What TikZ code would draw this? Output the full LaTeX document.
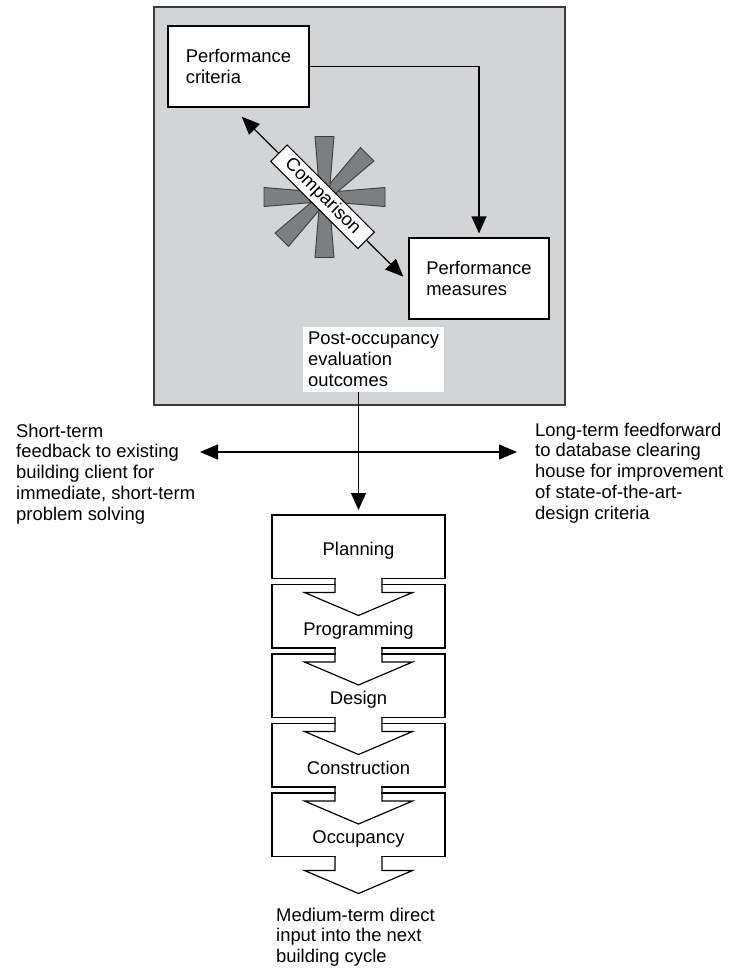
\documentclass[tikz,border=0pt]{standalone}
\usepackage{fontspec}
\setmainfont{Liberation Sans}
\usepackage{tikz}
\usetikzlibrary{arrows.meta, positioning, calc}

\definecolor{panelgray}{RGB}{211,212,214}
\definecolor{spokegray}{RGB}{125,126,128}
\definecolor{edgegray}{RGB}{60,60,60}

\begin{document}
\begin{tikzpicture}[
  x=1pt, y=1pt,
  font=\fontsize{18.4}{20.8}\selectfont,
  panel/.style={rectangle, draw=edgegray, fill=panelgray, line width=1.2pt, minimum width=411, minimum height=398, inner sep=0},
  pbox/.style={rectangle, draw, fill=white, line width=1.2pt, minimum width=141, minimum height=81, align=left},
  cmpbox/.style={rectangle, draw, fill=white, line width=1.1pt, rotate=-45, inner xsep=12pt, inner ysep=3pt},
  spoke/.style={draw=edgegray, fill=spokegray, line width=0.9pt, line join=round},
  stage/.style={rectangle, draw, fill=white, line width=1.2pt, minimum width=173, inner sep=0, outer sep=0, text height=50.5pt, text depth=13pt},
  stagetop/.style={text height=40pt, text depth=23.5pt},
  stagearr/.style={line width=1.2pt, line join=miter},
  note/.style={align=left, inner sep=0, anchor=north west},
  arrow/.style={-{Triangle[length=17pt, width=15pt]}, line width=1.2pt},
  dblarrow/.style={{Triangle[length=18pt, width=15pt]}-{Triangle[length=18pt, width=15pt]}, line width=1.2pt}
]
  \useasboundingbox (0,0) rectangle (729,-969);

  % evaluation panel
  \node[panel] (eval) at (359.5,-206) {};
  \node[pbox] (crit) at (238.5,-66.5) {Performance\\criteria};
  \node[pbox, minimum width=140] (meas) at (479,-278.5) {Performance\\measures};
  \draw[arrow, shorten >=4pt] (crit.east) -| (meas.north);

  % comparison star
  \coordinate (star) at (324.5,-197);
  \foreach \a in {0,45,90,180,225,270}
    \draw[spoke, shift={(star)}, rotate=\a] (0,-4.5) -- (60.5,-9.5) -- (60.5,9.5) -- (0,4.5) -- cycle;
  \coordinate (cmpa) at (241.7,-116.7);
  \coordinate (cmpb) at (403.3,-276.7);
  \draw[dblarrow] (cmpa) -- (cmpb);
  \node[cmpbox] (cmp) at ($(cmpa)!0.5!(cmpb)$) {Comparison};

  \node[note, fill=white, inner xsep=5pt, inner ysep=5pt] (poe) at (303,-327) {Post-occupancy\\evaluation\\outcomes};

  % building cycle
  \node[stage, stagetop] (plan) at (358.5,-546.75) {Planning};
  \node[stage, below=6 of plan] (prog) {Programming};
  \node[stage, below=6 of prog] (dsgn) {Design};
  \node[stage, below=6 of dsgn] (cons) {Construction};
  \node[stage, below=6 of cons] (occu) {Occupancy};
  \foreach \s in {plan,prog,dsgn,cons,occu} {
    \fill[white] ([xshift=-22.8,yshift=1]\s.south) rectangle ([xshift=22.8,yshift=-14]\s.south);
    \draw[stagearr] ([xshift=-23.5]\s.south) -- ++(0,-14) -- ++(-30.5,0)
      -- ([yshift=-37]\s.south) -- ([xshift=54,yshift=-14]\s.south) -- ++(-30.5,0) -- ++(0,14);
  }

  \draw[arrow, shorten >=5pt] (poe.south -| plan.north) -- (plan.north);

  % feedback and feedforward
  \node[note] (short) at (16,-423.5) {Short-term\\feedback to existing\\building client for\\immediate, short-term\\problem solving};
  \node[note] (long) at (535,-422.5) {Long-term feedforward\\to database clearing\\house for improvement\\of state-of-the-art-\\design criteria};
  \coordinate (fbend) at (200,-452);
  \coordinate (ffend) at (517,-452);
  \draw[dblarrow] (fbend) -- (ffend);

  \node[note] (medium) at (276,-907.5) {Medium-term direct\\input into the next\\building cycle};
\end{tikzpicture}
\end{document}
